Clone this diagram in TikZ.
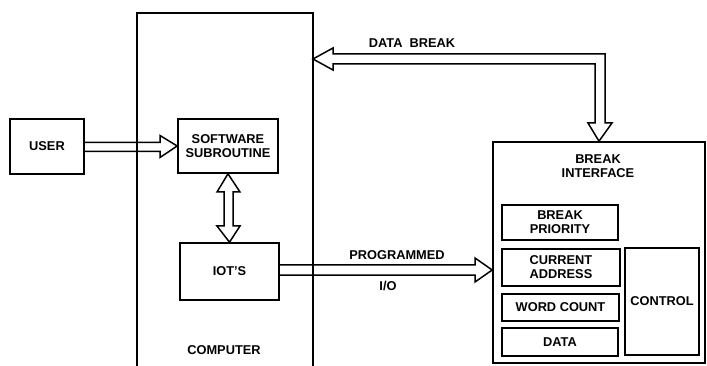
\documentclass[tikz,border=0pt]{standalone}
\usepackage{fontspec}
\setmainfont{Liberation Sans}
\begin{document}
\begin{tikzpicture}[x=1pt,y=-1pt,
  box/.style={draw, line width=1.6pt, inner sep=0pt, align=center,
    font=\bfseries\fontsize{12.8}{14}\selectfont},
  lbl/.style={inner sep=0pt, align=center, font=\bfseries\fontsize{12.8}{14}\selectfont},
  hollow/.style={draw, line width=1.5pt, line join=miter}]
\useasboundingbox (0,0) rectangle (707,366);
% computer enclosure (open at bottom)
\draw[line width=1.8pt] (137,370) -- (137,13) -- (313,13) -- (313,370);
\node[lbl] (comp) at (224,350) {COMPUTER};
% boxes
\node[box, minimum width=74pt, minimum height=55pt] (user) at (47,146.5) {USER};
\node[box, minimum width=100pt, minimum height=54pt] (soft) at (228,146) {SOFTWARE\\SUBROUTINE};
\node[box, minimum width=99pt, minimum height=57pt] (iot) at (229.5,271.5) {IOT'S};
\node[box, minimum width=212pt, minimum height=221pt] (brk) at (599,252.5) {};
\node[lbl] (brklbl) at (598,166) {BREAK\\INTERFACE};
\node[box, minimum width=116pt, minimum height=35pt] (prio) at (560,222.5) {BREAK\\PRIORITY};
\node[box, minimum width=118pt, minimum height=37pt] (addr) at (561,267.5) {CURRENT\\ADDRESS};
\node[box, minimum width=117pt, minimum height=27pt] (wc) at (560.5,307.5) {WORD COUNT};
\node[box, minimum width=116pt, minimum height=28pt] (data) at (560,342) {DATA};
\node[box, minimum width=74pt, minimum height=107pt] (ctrl) at (662,301.5) {CONTROL};
% USER -> SOFTWARE
\draw[hollow] (user.east |- 0,142.5) -- (160,142.5) -- (160,135.5) -- (soft.west) -- (160,157.5) -- (160,151.5) -- (user.east |- 0,151.5);
% SOFTWARE <-> IOT'S
\draw[hollow] (soft.south) -- (240,192) -- (233,192) -- (233,226) -- (240,226) -- (iot.north) -- (217,226) -- (224,226) -- (224,192) -- (217,192) -- cycle;
% DATA BREAK
\coordinate (dbtip) at (313,59);
\draw[hollow] (dbtip) -- (333,48) -- (333,54) -- (605,54) -- (605,123) -- (612,123) -- (brk.north) -- (588,123) -- (595,123) -- (595,64) -- (333,64) -- (333,70) -- cycle;
\node[lbl] (dblbl) at (412,43) {DATA\ \ BREAK};
% PROGRAMMED I/O
\draw[hollow] (iot.east |- 0,265) -- (475,265) -- (475,258) -- (brk.west |- 0,270) -- (475,282) -- (475,275) -- (iot.east |- 0,275);
\node[lbl] (prog) at (397,255) {PROGRAMMED};
\node[lbl] (io) at (388,286) {I/O};
\end{tikzpicture}
\end{document}
